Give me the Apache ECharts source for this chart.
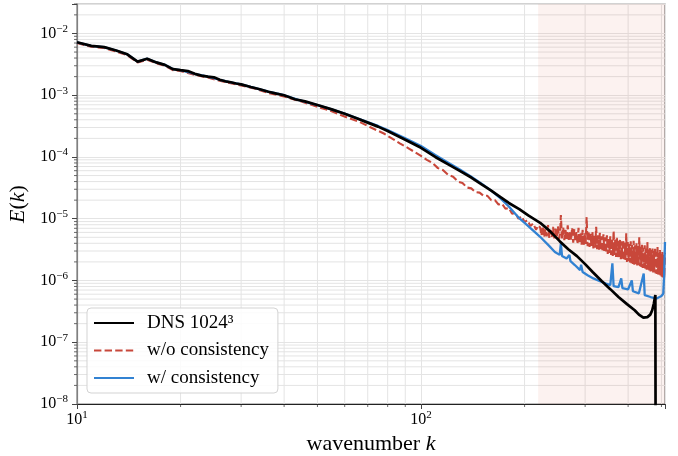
<!DOCTYPE html>
<html>
<head>
<meta charset="utf-8">
<script src="https://cdn.jsdelivr.net/npm/echarts@6/dist/echarts.min.js"></script>
<style>
  html, body { margin: 0; padding: 0; background: #fff; }
  #main { width: 678px; height: 456px; }
</style>
</head>
<body>
<div id="main"></div>
<script>
// wavenumbers and spectra
const dnsK = [10, 11, 12, 13, 14, 15, 16, 17, 18, 19, 20, 21, 22, 23, 24, 25, 26, 27, 28, 29, 30, 32, 34, 36, 38, 40, 43, 46, 50, 55,
  60, 65, 70, 75, 80, 90, 100, 110, 120, 130, 140, 150, 160, 169, 180, 193, 205, 222, 237, 253, 268, 284, 300, 316, 335, 355,
  375, 397, 418, 430, 443, 455, 464, 470, 475, 480, 482];
const dnsE = [7.2e-3, 6.3e-3, 6.0e-3, 5.3e-3, 4.6e-3, 3.5e-3, 3.9e-3, 3.4e-3, 3.1e-3, 2.65e-3, 2.55e-3, 2.46e-3, 2.22e-3, 2.08e-3,
  2.0e-3, 1.95e-3, 1.78e-3, 1.68e-3, 1.62e-3, 1.55e-3, 1.5e-3, 1.36e-3, 1.25e-3, 1.14e-3, 1.06e-3, 1.0e-3, 8.6e-4, 7.96e-4,
  6.94e-4, 5.9e-4, 5.0e-4, 4.22e-4, 3.6e-4, 3.1e-4, 2.63e-4, 1.9e-4, 1.41e-4, 1.0e-4, 7.6e-5, 5.9e-5, 4.65e-5, 3.6e-5, 2.85e-5,
  2.31e-5, 1.8e-5, 1.43e-5, 1.13e-5, 8.6e-6, 6.3e-6, 4.33e-6, 3.2e-6, 2.48e-6, 1.84e-6, 1.36e-6, 9.8e-7, 7.24e-7, 5.4e-7,
  4.14e-7, 3.3e-7, 2.8e-7, 2.5e-7, 2.55e-7, 2.8e-7, 3.3e-7, 4.2e-7, 5.8e-7, 1e-12];

const woK = [10, 11, 12, 13, 14, 15, 16, 17, 18, 19, 20, 22, 24, 26, 28, 30, 33, 36, 40, 44, 50, 55, 62, 66, 71, 78, 87, 92,
  100, 104, 108, 112, 116, 120, 124, 128, 132, 136, 140, 144, 148, 152, 156, 160, 164, 168, 172, 176, 180, 184, 188, 192, 196,
  200, 204, 208, 212, 216, 219,
  222, 224, 226, 228, 230, 232, 234, 236, 238, 240, 242, 244, 246, 248, 250, 252, 254, 255, 257, 259, 261, 263, 265, 267, 269,
  271, 273, 275, 277, 279, 281, 283, 285, 287, 289, 291, 293, 295, 297, 299, 301, 303, 305, 307, 309, 311, 313, 315, 317, 319,
  321, 323, 325, 327, 329, 331, 333, 335, 337, 339, 341, 343, 345, 347, 349, 351, 353, 355, 357, 359, 361, 363, 365, 367, 369,
  371, 373, 375, 377, 379, 381, 383, 385, 387, 389, 391, 393, 395, 397, 399, 401, 403, 405, 407, 409, 411, 413, 415, 417, 419,
  421, 423, 425, 427, 429, 431, 433, 435, 437, 439, 441, 443, 445, 447, 449, 451, 453, 455, 457, 459, 461, 463, 465, 467, 469,
  471, 473, 475, 477, 479, 481, 483, 485, 487, 489, 491, 493, 495, 497, 499, 501, 503, 505, 507, 509, 512];
const woE = [7.0e-3, 6.1e-3, 5.8e-3, 5.1e-3, 4.45e-3, 3.4e-3, 3.75e-3, 3.3e-3, 3.0e-3, 2.55e-3, 2.47e-3, 2.14e-3, 1.93e-3,
  1.71e-3, 1.56e-3, 1.44e-3, 1.27e-3, 1.09e-3, 9.5e-4, 8.2e-4, 6.5e-4, 5.5e-4, 4.2e-4, 3.75e-4, 3.05e-4, 2.4e-4, 1.65e-4,
  1.38e-4, 1.04e-4, 9.0e-5, 8.0e-5, 6.6e-5, 6.1e-5, 5.1e-5, 4.8e-5, 4.0e-5, 3.8e-5, 3.2e-5, 3.1e-5, 2.7e-5, 2.65e-5, 2.35e-5,
  2.35e-5, 2.0e-5, 2.0e-5, 1.7e-5, 1.75e-5, 1.45e-5, 1.5e-5, 1.2e-5, 1.25e-5, 1.0e-5, 1.1e-5, 8.8e-6, 9.5e-6, 7.6e-6, 8.4e-6,
  6.6e-6, 7.8e-6,
  7.2e-6, 5.3e-6, 7.6e-6, 5.0e-6, 6.8e-6, 5.2e-6, 7.9e-6, 4.9e-6, 6.6e-6, 5.1e-6, 7.4e-6, 4.8e-6, 6.9e-6, 5.0e-6, 7.6e-6,
  4.7e-6, 6.5e-6, 1.15e-5, 4.6e-6, 7.3e-6, 4.5e-6, 6.6e-6, 4.7e-6, 7.8e-6, 4.3e-6, 6.4e-6, 4.5e-6, 7.2e-6, 4.1e-6, 6.8e-6,
  4.3e-6, 6.2e-6, 3.9e-6, 7.1e-6, 4.0e-6, 6.0e-6, 3.8e-6, 6.6e-6, 3.7e-6, 5.8e-6, 3.9e-6, 1.07e-5, 3.6e-6, 6.3e-6, 3.5e-6,
  5.7e-6, 3.6e-6, 6.1e-6, 3.3e-6, 5.5e-6, 3.4e-6, 7.4e-6, 3.2e-6, 5.4e-6, 3.1e-6, 5.9e-6, 3.2e-6, 5.2e-6, 2.9e-6, 5.6e-6,
  3.0e-6, 5.0e-6, 2.8e-6, 5.4e-6, 2.7e-6, 4.8e-6, 2.8e-6, 5.2e-6, 2.6e-6, 4.7e-6, 2.5e-6, 6.4e-6, 2.6e-6, 4.6e-6, 2.4e-6,
  4.9e-6, 2.35e-6, 4.4e-6, 2.4e-6, 4.7e-6, 2.2e-6, 4.3e-6, 2.25e-6, 4.6e-6, 2.1e-6, 4.1e-6, 2.15e-6, 5.8e-6, 2.0e-6, 4.2e-6,
  2.05e-6, 3.9e-6, 1.95e-6, 4.3e-6, 1.9e-6, 3.8e-6, 1.85e-6, 4.4e-6, 1.8e-6, 3.7e-6, 1.85e-6, 4.0e-6, 1.75e-6, 3.6e-6,
  1.7e-6, 5.0e-6, 1.7e-6, 3.5e-6, 1.65e-6, 3.8e-6, 1.6e-6, 3.4e-6, 1.6e-6, 3.7e-6, 1.55e-6, 3.3e-6, 1.5e-6, 4.2e-6, 1.5e-6,
  3.2e-6, 1.45e-6, 3.5e-6, 1.4e-6, 3.1e-6, 1.42e-6, 3.3e-6, 1.35e-6, 3.0e-6, 1.35e-6, 3.4e-6, 1.3e-6, 2.9e-6, 1.28e-6,
  3.5e-6, 1.25e-6, 2.8e-6, 1.22e-6, 3.1e-6, 1.2e-6, 2.7e-6, 1.15e-6, 2.9e-6, 1.12e-6, 2.6e-6, 1.1e-6, 2.8e-6, 1.12e-6,
  2.4e-6, 1.15e-6, 2.3e-6, 1.5e-6, 8.3e-5];

const wK = [10, 11, 12, 13, 14, 15, 16, 17, 18, 19, 20, 22, 24, 26, 28, 30, 33, 36, 40, 44, 50, 55, 60, 65, 70, 75, 80, 90, 100,
  110, 120, 130, 140, 150, 160, 170, 180, 193, 205, 222, 235, 245, 253, 255, 257, 265, 270, 272, 280, 290, 292, 295, 305, 317,
  330, 345, 355, 360, 363, 375, 382, 385, 400, 410, 413, 430, 444, 447, 465, 484, 500, 506, 509, 512];
const wE = [7.2e-3, 6.3e-3, 6.0e-3, 5.3e-3, 4.6e-3, 3.5e-3, 3.9e-3, 3.4e-3, 3.1e-3, 2.65e-3, 2.55e-3, 2.22e-3, 2.0e-3, 1.78e-3,
  1.62e-3, 1.5e-3, 1.3e-3, 1.14e-3, 1.0e-3, 8.4e-4, 6.94e-4, 5.9e-4, 5.02e-4, 4.26e-4, 3.66e-4, 3.18e-4, 2.74e-4, 2.0e-4,
  1.5e-4, 1.08e-4, 8.1e-5, 6.2e-5, 4.8e-5, 3.7e-5, 2.85e-5, 2.15e-5, 1.58e-5, 1.02e-5, 7.6e-6, 5.1e-6, 3.7e-6, 2.9e-6, 2.6e-6,
  4.0e-6, 2.5e-6, 2.27e-6, 2.6e-6, 2.05e-6, 1.78e-6, 1.47e-6, 1.8e-6, 1.37e-6, 1.22e-6, 1.08e-6, 9.8e-7, 8.9e-7, 8.4e-7,
  1.89e-6, 8.1e-7, 7.8e-7, 1.08e-6, 7.5e-7, 7.2e-7, 1.0e-6, 6.7e-7, 6.2e-7, 1.3e-6, 5.8e-7, 5.4e-7, 5.1e-7, 5.6e-7, 6.1e-7,
  1.2e-6, 4.2e-6];

// axes
const xMin = 10, xMax = 512;
const yMin = 1e-8, yMax = 3e-2;
const minorX = [20, 30, 40, 50, 60, 70, 80, 90, 200, 300, 400, 500];
const minorY = [2e-8, 3e-8, 4e-8, 5e-8, 6e-8, 7e-8, 8e-8, 9e-8, 2e-7, 3e-7, 4e-7, 5e-7, 6e-7, 7e-7, 8e-7, 9e-7,
  2e-6, 3e-6, 4e-6, 5e-6, 6e-6, 7e-6, 8e-6, 9e-6, 2e-5, 3e-5, 4e-5, 5e-5, 6e-5, 7e-5, 8e-5, 9e-5,
  2e-4, 3e-4, 4e-4, 5e-4, 6e-4, 7e-4, 8e-4, 9e-4, 2e-3, 3e-3, 4e-3, 5e-3, 6e-3, 7e-3, 8e-3, 9e-3, 2e-2, 3e-2];
const shadeFrom = 219;

const seriesNames = ['DNS 1024³', 'w/o consistency', 'w/ consistency'];

const serif = 'Liberation Serif';
const gridColor = '#e4e4e4';
const tickColor = '#444';

function zip(ks, es) { return ks.map((k, i) => [k, es[i]]); }

function powLabel(v) {
  const l = Math.log10(v);
  const e = Math.round(l);
  if (Math.abs(l - e) > 1e-6) return '';
  return '{b|10}{s|' + (e < 0 ? '\u2212' + (-e) : e) + '}';
}
const labelRich = {
  b: { fontFamily: serif, fontSize: 16, lineHeight: 20, color: '#000' },
  s: { fontFamily: serif, fontSize: 11, lineHeight: 13, verticalAlign: 'top', color: '#000' }
};
const nameStyle = {
  fontFamily: serif, fontSize: 22, color: '#000',
  rich: { i: { fontFamily: serif, fontSize: 22, fontStyle: 'italic', color: '#000' } }
};

// minor grid lines + minor ticks
function vMinor(params, api) {
  const cs = params.coordSys;
  const x = api.coord([api.value(0), yMin])[0];
  const b = cs.y + cs.height;
  return { type: 'group', children: [
    { type: 'line', shape: { x1: x, y1: cs.y, x2: x, y2: b }, style: { stroke: gridColor, lineWidth: 1 } },
    { type: 'line', shape: { x1: x, y1: b, x2: x, y2: b + 3 }, style: { stroke: tickColor, lineWidth: 0.8 } }
  ] };
}
function hMinor(params, api) {
  const cs = params.coordSys;
  const y = api.coord([xMin, api.value(1)])[1];
  return { type: 'group', children: [
    { type: 'line', shape: { x1: cs.x, y1: y, x2: cs.x + cs.width, y2: y }, style: { stroke: gridColor, lineWidth: 1 } },
    { type: 'line', shape: { x1: cs.x - 3, y1: y, x2: cs.x, y2: y }, style: { stroke: tickColor, lineWidth: 0.8 } }
  ] };
}

const chart = echarts.init(document.getElementById('main'));
chart.setOption({
  animation: false,
  backgroundColor: '#fff',
  grid: { left: 77, right: 13, top: 4, bottom: 52, outerBoundsMode: 'none', containLabel: false,
    show: true, borderColor: '#808080', borderWidth: 1.2, backgroundColor: 'transparent' },
  legend: {
    data: seriesNames,
    orient: 'vertical',
    left: 87, top: 308,
    itemWidth: 40, itemHeight: 14, itemGap: 7.5,
    padding: [5, 9, 5, 6],
    backgroundColor: 'rgba(255,255,255,0.85)',
    borderColor: '#d3d3d3', borderWidth: 1, borderRadius: 4,
    itemStyle: { opacity: 0 },
    textStyle: { fontFamily: serif, fontSize: 19, lineHeight: 20, color: '#000', padding: [0, 0, 0, 8] },
    z: 10
  },
  xAxis: {
    type: 'log', logBase: 10, min: xMin, max: xMax,
    name: 'wavenumber {i|k}', nameLocation: 'middle', nameGap: 27, nameTextStyle: nameStyle,
    axisLine: { show: true, onZero: false, lineStyle: { color: '#222', width: 1 } },
    axisTick: { show: true, inside: false, length: 5, lineStyle: { color: tickColor, width: 1 } },
    axisLabel: { formatter: powLabel, rich: labelRich, margin: 6 },
    splitLine: { show: true, lineStyle: { color: gridColor, width: 1 } },
    minorTick: { show: false }, minorSplitLine: { show: false }
  },
  yAxis: {
    type: 'log', logBase: 10, min: yMin, max: yMax,
    name: '{i|E}({i|k})', nameLocation: 'middle', nameGap: 45, nameRotate: 90, nameTextStyle: nameStyle,
    axisLine: { show: true, lineStyle: { color: '#808080', width: 1.2 } },
    axisTick: { show: true, inside: false, length: 5, lineStyle: { color: tickColor, width: 1 } },
    axisLabel: { formatter: powLabel, rich: labelRich, margin: 9 },
    splitLine: { show: true, lineStyle: { color: gridColor, width: 1 } },
    minorTick: { show: false }, minorSplitLine: { show: false }
  },
  series: [
    {
      type: 'custom', name: 'minorX', renderItem: vMinor, silent: true, z: 0,
      data: minorX.map(v => [v, yMin]),
      markArea: {
        silent: true,
        itemStyle: { color: 'rgba(214,80,60,0.075)' },
        data: [[{ xAxis: shadeFrom }, { xAxis: xMax }]]
      }
    },
    { type: 'custom', name: 'minorY', renderItem: hMinor, silent: true, z: 0, data: minorY.map(v => [xMin, v]) },
    {
      name: seriesNames[1], type: 'line', data: zip(woK, woE), symbol: 'none', z: 3,
      lineStyle: { color: '#c8473a', width: 2.1, type: [7.4, 3.2] }, itemStyle: { color: '#c8473a' }
    },
    {
      name: seriesNames[2], type: 'line', data: zip(wK, wE), symbol: 'none', z: 4,
      lineStyle: { color: '#3282d2', width: 2.3 }, itemStyle: { color: '#3282d2' }
    },
    {
      name: seriesNames[0], type: 'line', data: zip(dnsK, dnsE), symbol: 'none', z: 5,
      lineStyle: { color: '#000', width: 2.7 }, itemStyle: { color: '#000' }
    }
  ]
});
</script>
</body>
</html>
